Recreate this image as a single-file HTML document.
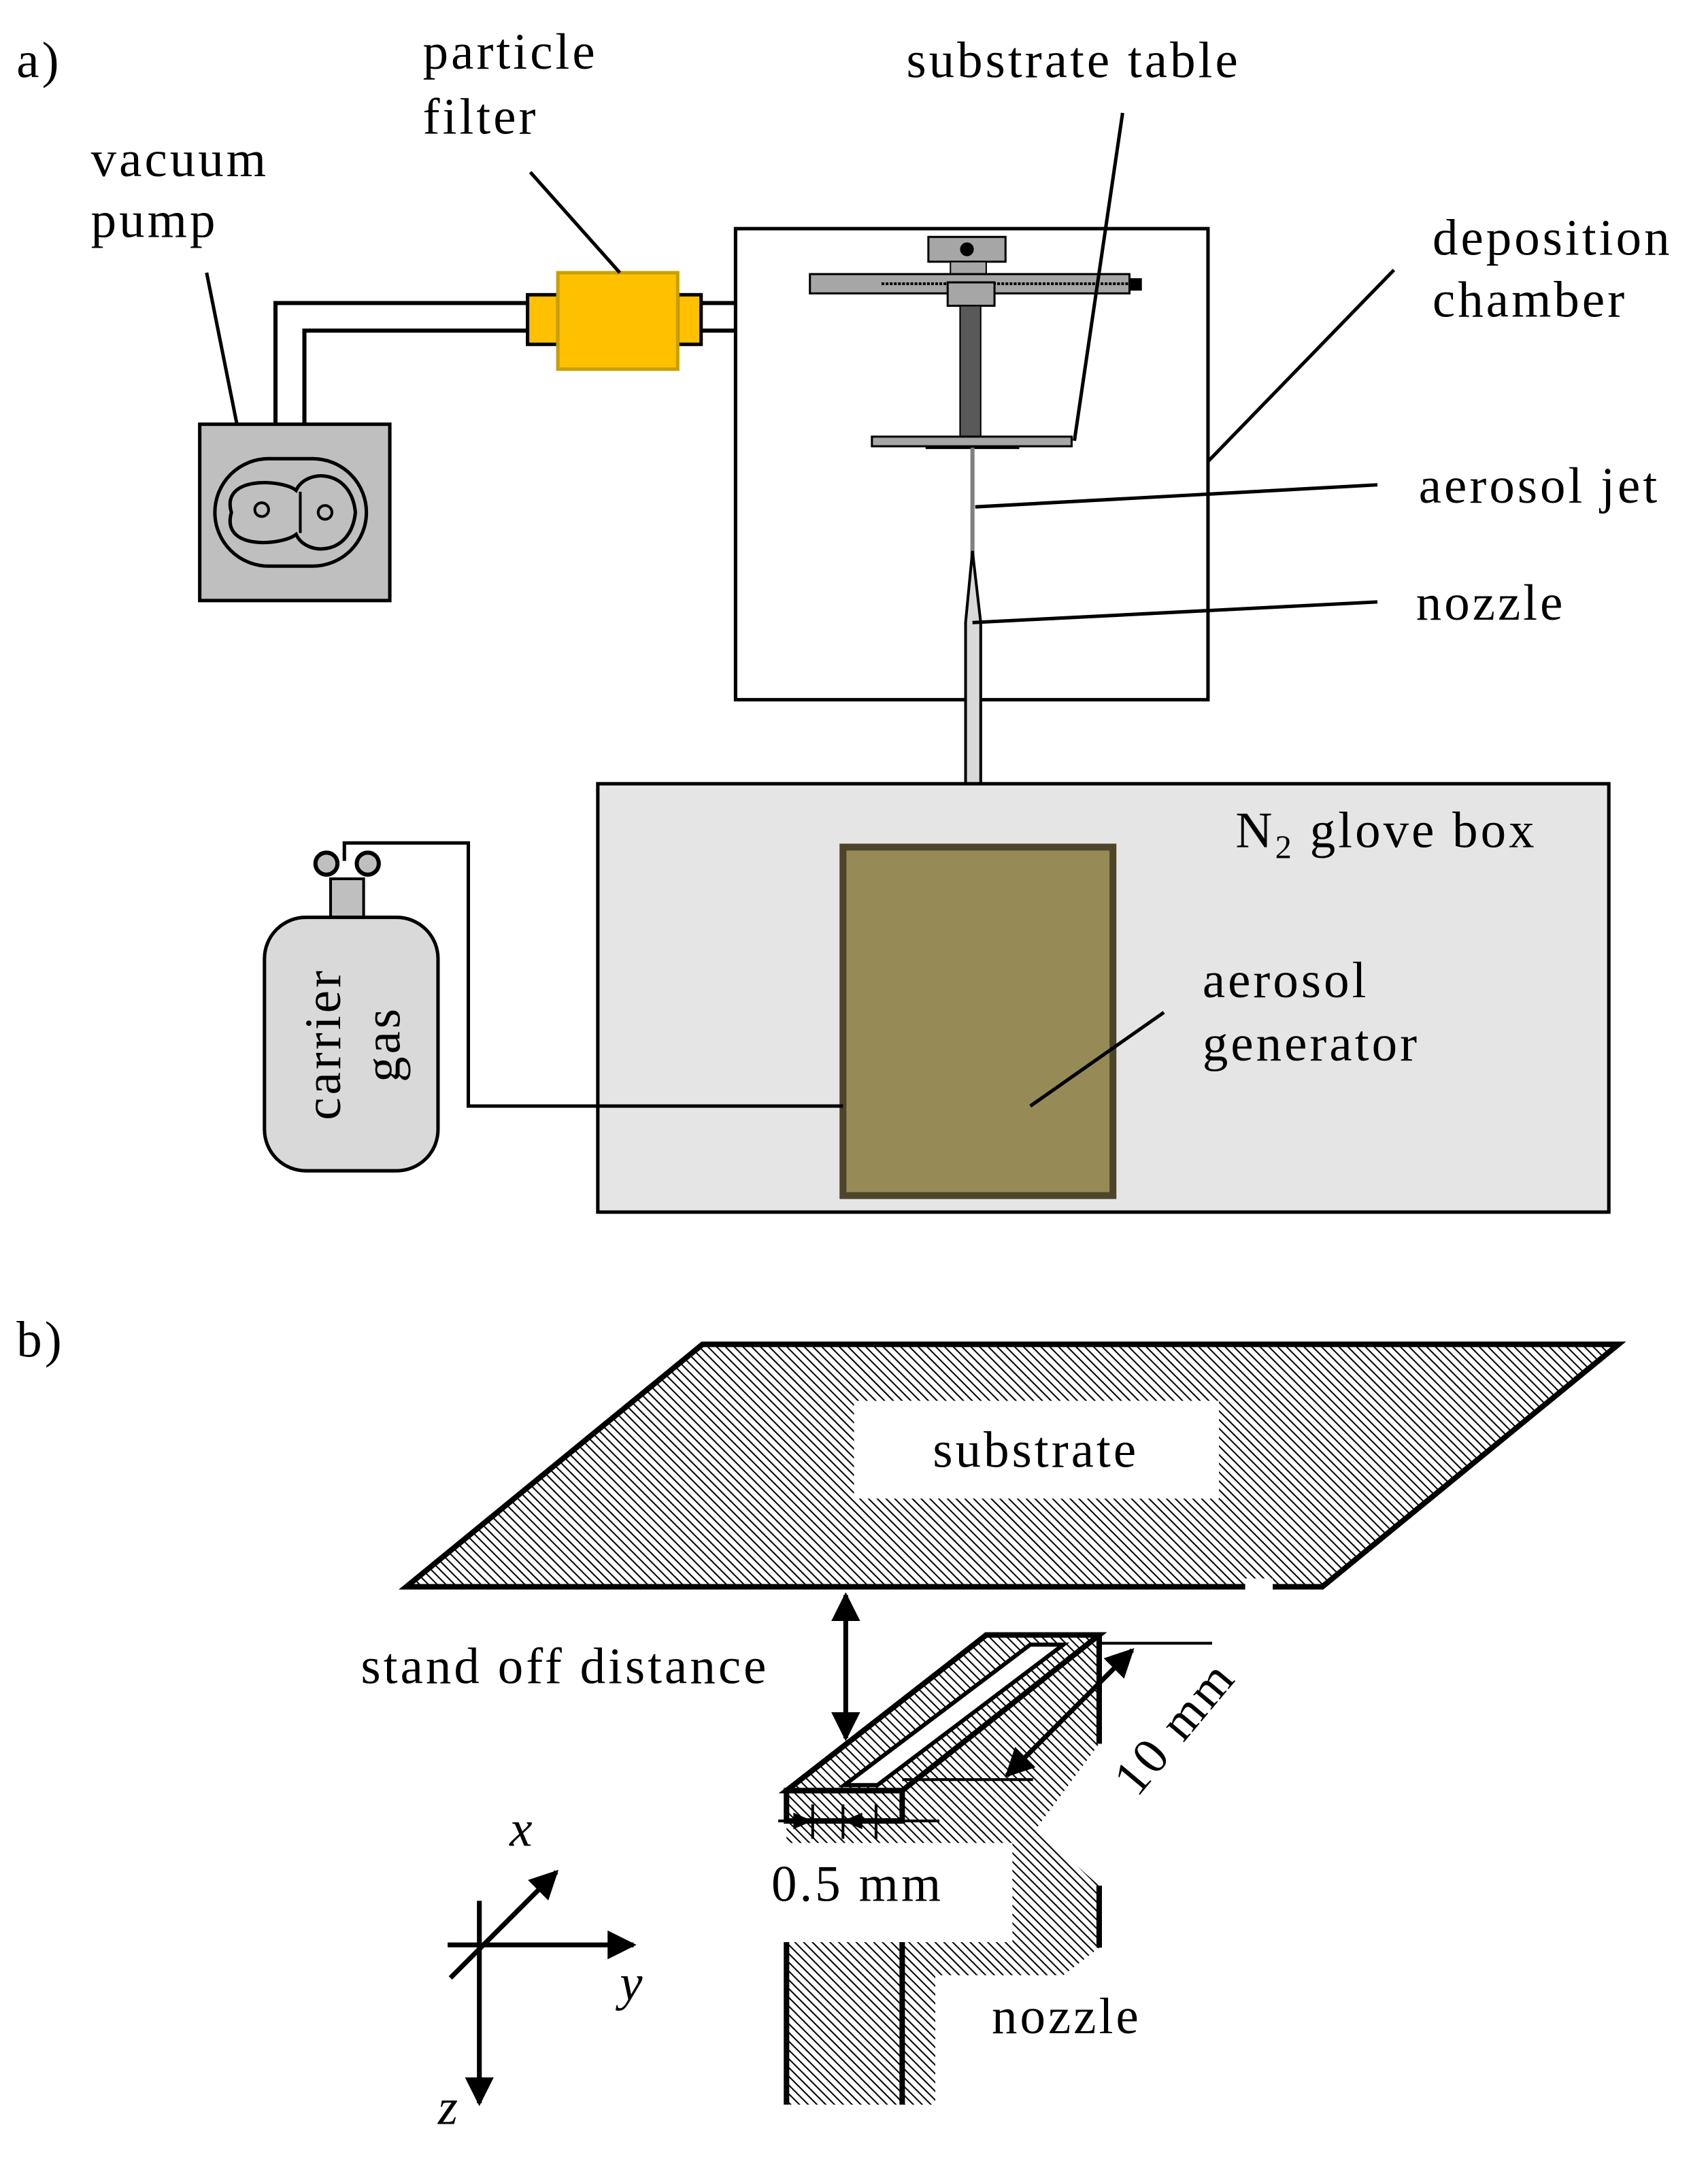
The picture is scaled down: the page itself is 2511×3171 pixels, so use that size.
<!DOCTYPE html>
<html><head><meta charset="utf-8"><style>
html,body{margin:0;padding:0;background:#fff}
svg{display:block}
text{font-family:"Liberation Serif",serif;font-size:37px;letter-spacing:2px;fill:#000}
</style></head><body>
<svg width="2511" height="3171" viewBox="0 0 1240 1566" preserveAspectRatio="none" xmlns="http://www.w3.org/2000/svg">
<defs>
<pattern id="h" width="4.5" height="4.5" patternUnits="userSpaceOnUse" patternTransform="rotate(-45)">
<rect width="4.5" height="4.5" fill="#fff"/>
<line x1="0" y1="0" x2="0" y2="4.5" stroke="#000" stroke-width="2"/>
</pattern>
<marker id="ar" viewBox="0 0 10 10" refX="9" refY="5" markerWidth="6" markerHeight="6" orient="auto-start-reverse" markerUnits="strokeWidth">
<path d="M0,0 L10,5 L0,10 z" fill="#000"/></marker>
</defs>

<!-- part a -->
<text x="12" y="56">a)</text>
<text x="307" y="50">particle</text>
<text x="307" y="97">filter</text>
<text x="66" y="128">vacuum</text>
<text x="66" y="172">pump</text>
<text x="658" y="56">substrate table</text>
<text x="1040" y="185">deposition</text>
<text x="1040" y="230">chamber</text>
<text x="1030" y="365">aerosol jet</text>
<text x="1028" y="450">nozzle</text>

<rect x="534" y="166" width="343" height="342" fill="#fff" stroke="#000" stroke-width="2.5"/>
<g fill="none" stroke="#000" stroke-width="3">
<polyline points="200,308 200,220 383,220"/>
<polyline points="221,308 221,240 383,240"/>
<line x1="509" y1="220" x2="534" y2="220"/>
<line x1="509" y1="240" x2="534" y2="240"/>
</g>
<rect x="383" y="214" width="22" height="36" fill="#ffc000" stroke="#000" stroke-width="2.5"/>
<rect x="492" y="214" width="17" height="36" fill="#ffc000" stroke="#000" stroke-width="2.5"/>
<rect x="405" y="198" width="87" height="70" fill="#ffc000" stroke="#c8a000" stroke-width="2.5"/>
<rect x="145" y="308" width="138" height="128" fill="#bfbfbf" stroke="#000" stroke-width="2.5"/>
<rect x="156" y="333" width="110" height="78" rx="39" fill="none" stroke="#000" stroke-width="2.5"/>
<path d="M168,372 C160,345 205,348 215,356 C222,340 255,340 258,372 C255,404 222,404 215,388 C205,396 160,400 168,372 z" fill="none" stroke="#000" stroke-width="2.5"/>
<path d="M218,357 C218,370 218,374 218,387" fill="none" stroke="#000" stroke-width="2"/>
<circle cx="190" cy="370" r="5" fill="none" stroke="#000" stroke-width="2"/>
<circle cx="236" cy="372" r="5" fill="none" stroke="#000" stroke-width="2"/>
<rect x="674" y="172" width="56" height="18" fill="#a6a6a6" stroke="#000" stroke-width="1.5"/>
<circle cx="702" cy="181" r="5" fill="#000"/>
<rect x="690" y="190" width="26" height="9" fill="#a6a6a6" stroke="#000" stroke-width="1"/>
<rect x="588" y="199" width="232" height="14" fill="#a6a6a6" stroke="#000" stroke-width="1.5"/>
<line x1="640" y1="206" x2="820" y2="206" stroke="#000" stroke-width="2" stroke-dasharray="2,1"/>
<rect x="820" y="202" width="9" height="9" fill="#000"/>
<rect x="688" y="205" width="34" height="17" fill="#a6a6a6" stroke="#000" stroke-width="1.5"/>
<rect x="697" y="222" width="15" height="96" fill="#595959" stroke="#000" stroke-width="1"/>
<rect x="633" y="317" width="145" height="7" fill="#a6a6a6" stroke="#000" stroke-width="1.5"/>
<line x1="672" y1="325" x2="740" y2="325" stroke="#000" stroke-width="2"/>
<line x1="706" y1="325" x2="706" y2="405" stroke="#808080" stroke-width="3"/>
<path d="M706,400 L712,452 L712,612 L701,612 L701,452 z" fill="#d9d9d9" stroke="#000" stroke-width="2"/>
<g stroke="#000" stroke-width="2.5" fill="none">
<line x1="385" y1="125" x2="450" y2="198"/>
<line x1="150" y1="198" x2="172" y2="308"/>
<line x1="815" y1="82" x2="780" y2="320"/>
<line x1="1012" y1="196" x2="877" y2="335"/>
<line x1="1000" y1="352" x2="708" y2="368"/>
<line x1="1000" y1="437" x2="706" y2="452"/>
</g>
<rect x="434" y="569" width="734" height="311" fill="#e5e5e5" stroke="#000" stroke-width="2.5"/>
<text x="897" y="615">N<tspan font-size="24" dy="8">2</tspan><tspan dy="-8"> glove box</tspan></text>
<rect x="612" y="615" width="196" height="253" fill="#968b56" stroke="#4d4529" stroke-width="5"/>
<text x="873" y="724">aerosol</text>
<text x="873" y="770">generator</text>
<line x1="845" y1="735" x2="748" y2="803" stroke="#000" stroke-width="2.5"/>
<polyline points="612,803 340,803 340,612 250,612 250,625" fill="none" stroke="#000" stroke-width="2.5"/>
<rect x="240" y="638" width="24" height="30" fill="#bfbfbf" stroke="#000" stroke-width="2"/>
<circle cx="237" cy="627" r="8" fill="#bfbfbf" stroke="#000" stroke-width="3"/>
<circle cx="267" cy="627" r="8" fill="#bfbfbf" stroke="#000" stroke-width="3"/>
<rect x="192" y="666" width="126" height="184" rx="30" fill="#d9d9d9" stroke="#000" stroke-width="2.5"/>
<text transform="translate(247,758) rotate(-90)" text-anchor="middle">carrier</text>
<text transform="translate(290,758) rotate(-90)" text-anchor="middle">gas</text>

<!-- part b -->
<text x="12" y="985">b)</text>
<polygon points="510,976 1175,976 960,1152 295,1152" fill="url(#h)" stroke="#000" stroke-width="4"/>
<rect x="904" y="1146" width="20" height="10" fill="#fff"/>
<rect x="620" y="1017" width="265" height="71" fill="#fff"/>
<text x="752" y="1065" text-anchor="middle">substrate</text>

<text x="262" y="1222">stand off distance</text>
<line x1="614" y1="1158" x2="614" y2="1262" stroke="#000" stroke-width="3.5" marker-start="url(#ar)" marker-end="url(#ar)"/>

<polygon points="571,1300 716,1187 798,1187 798,1266 752,1328 798,1369 798,1414 772,1434 679,1434 679,1528 571,1528" fill="url(#h)"/>
<rect x="560" y="1338" width="175" height="72" fill="#fff"/>
<g stroke="#000" stroke-width="4" fill="none">
<polygon points="571,1300 716,1187 798,1187 655,1300"/>
<rect x="571" y="1300" width="84" height="22"/>
<polygon points="613,1296 748,1194 772,1194 637,1296" stroke-width="3" fill="#fff"/>
<line x1="798" y1="1187" x2="798" y2="1266"/>
<line x1="798" y1="1369" x2="798" y2="1414"/>
<line x1="571" y1="1410" x2="571" y2="1528"/>
<line x1="655" y1="1410" x2="655" y2="1528"/>
</g>
<g stroke="#000" stroke-width="2" fill="none">
<line x1="798" y1="1193" x2="880" y2="1193"/>
<line x1="655" y1="1292" x2="750" y2="1292"/>
<line x1="565" y1="1322" x2="682" y2="1322"/>
<line x1="590" y1="1310" x2="590" y2="1335"/>
<line x1="612" y1="1310" x2="612" y2="1335"/>
<line x1="636" y1="1310" x2="636" y2="1335"/>
</g>
<line x1="822" y1="1198" x2="731" y2="1289" stroke="#000" stroke-width="3.5" marker-start="url(#ar)" marker-end="url(#ar)"/>
<path d="M590,1322 l-14,-6 v12 z M612,1322 l14,-6 v12 z" fill="#000"/>
<text transform="translate(862,1262) rotate(-50)" text-anchor="middle">10 mm</text>
<text x="560" y="1380">0.5 mm</text>
<text x="720" y="1476">nozzle</text>

<g stroke="#000" stroke-width="3.5">
<line x1="325" y1="1412" x2="460" y2="1412" marker-end="url(#ar)"/>
<line x1="348" y1="1380" x2="348" y2="1527" marker-end="url(#ar)"/>
<line x1="327" y1="1436" x2="404" y2="1359" marker-end="url(#ar)"/>
</g>
<text x="370" y="1340" font-style="italic">x</text>
<text x="450" y="1452" font-style="italic">y</text>
<text x="318" y="1542" font-style="italic">z</text>
</svg>
</body></html>
